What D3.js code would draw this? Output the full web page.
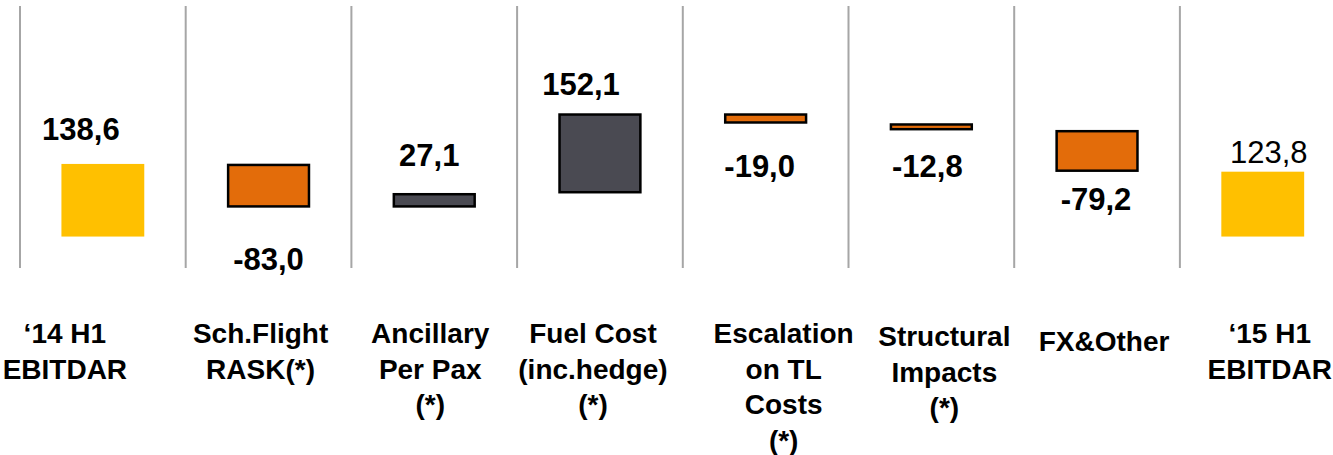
<!DOCTYPE html>
<html>
<head>
<meta charset="utf-8">
<script src="https://cdn.jsdelivr.net/npm/d3@7"></script>
<style>
  html, body { margin: 0; padding: 0; background: #fff; }
  svg { display: block; }
  text { font-family: "Liberation Sans", Arial, sans-serif; }
</style>
</head>
<body>
<svg id="chart" width="1333" height="455"></svg>
<script>
// EBITDAR bridge, H1 2014 -> H1 2015 (values in millions)
const categories = [
  ["\u201814 H1", "EBITDAR"],
  ["Sch.Flight", "RASK(*)"],
  ["Ancillary", "Per Pax", "(*)"],
  ["Fuel Cost", "(inc.hedge)", "(*)"],
  ["Escalation", "on TL", "Costs", "(*)"],
  ["Structural", "Impacts", "(*)"],
  ["FX&Other"],
  ["\u201815 H1", "EBITDAR"]
];
const values = [138.6, -83.0, 27.1, 152.1, -19.0, -12.8, -79.2, 123.8];
const kinds  = ["total", "delta", "delta", "delta", "delta", "delta", "delta", "total"];

// Small hand placements of the labels, [dx, dy] in pixels
const valueNudge = [[-22, -10], [0, 27], [-5, -13], [-19, -5], [-6, 18], [-4, 11], [-1, 2], [6, 5]];
const catNudge   = [[-38, 0], [-8, 0], [-4, 0], [-7, 0], [18, 0], [13, 3], [7, 8], [7, 0]];

const svg = d3.select("#chart");
// Decimal comma and a plain hyphen for negatives
const fmt = v => (v < 0 ? "-" : "") + d3.format(".1f")(Math.abs(v)).replace(".", ",");

// Running totals for the floating bars
let run = 0;
const bars = values.map((v, i) => {
  let lo, hi;
  if (kinds[i] === "total") { lo = 0; hi = v; run = v; }
  else { const start = run; run += v; lo = Math.min(start, run); hi = Math.max(start, run); }
  return { i, v, kind: kinds[i], lo, hi, label: fmt(v), lines: categories[i] };
});

const idx = d3.range(categories.length);
const x = d3.scaleBand().domain(idx).range([20, 20 + 8 * 165.7]).paddingInner(0.5).paddingOuter(0.25);
const y = d3.scaleLinear().domain([-60, 440]).range([268, 6]);
const step = x.step();

const color = d => d.kind === "total" ? "#FFC000" : (d.v < 0 ? "#E36C0A" : "#4A4A52");

// Vertical separators between categories
svg.append("g").selectAll("line").data(idx).join("line")
  .attr("x1", i => x(i) - step * 0.25).attr("x2", i => x(i) - step * 0.25)
  .attr("y1", y(440)).attr("y2", y(-60))
  .attr("stroke", "#A6A6A6").attr("stroke-width", 2);

// Bars
svg.append("g").selectAll("rect").data(bars).join("rect")
  .attr("x", d => x(d.i) + (d.kind === "total" ? 0 : 1))
  .attr("width", d => x.bandwidth() - (d.kind === "total" ? 0 : 2))
  .attr("y", d => y(d.hi) + (d.kind === "total" ? 0 : 1))
  .attr("height", d => y(d.lo) - y(d.hi) - (d.kind === "total" ? 0 : 2))
  .attr("fill", color)
  .attr("stroke", d => d.kind === "total" ? "none" : "#000")
  .attr("stroke-width", 2.5);

// Value labels: above rising/total bars, below falling bars
svg.append("g").selectAll("text").data(bars).join("text")
  .attr("x", d => x(d.i) + x.bandwidth() / 2 + valueNudge[d.i][0])
  .attr("y", d => (d.v < 0 ? y(d.lo) + 36 : y(d.hi) - 14) + valueNudge[d.i][1])
  .attr("text-anchor", "middle")
  .attr("font-size", 31)
  .attr("font-weight", d => d.i === bars.length - 1 ? "normal" : "bold")
  .attr("fill", "#000")
  .text(d => d.label);

// Category labels
const cat = svg.append("g").selectAll("text").data(bars).join("text")
  .attr("text-anchor", "middle")
  .attr("font-size", 28)
  .attr("font-weight", "bold")
  .attr("fill", "#000")
  .attr("transform", d => `translate(${x(d.i) + x.bandwidth() / 2 + catNudge[d.i][0]},${343 + catNudge[d.i][1]})`);
cat.selectAll("tspan").data(d => d.lines).join("tspan")
  .attr("x", 0).attr("y", (l, j) => j * 35.5)
  .text(l => l);
</script>
</body>
</html>
